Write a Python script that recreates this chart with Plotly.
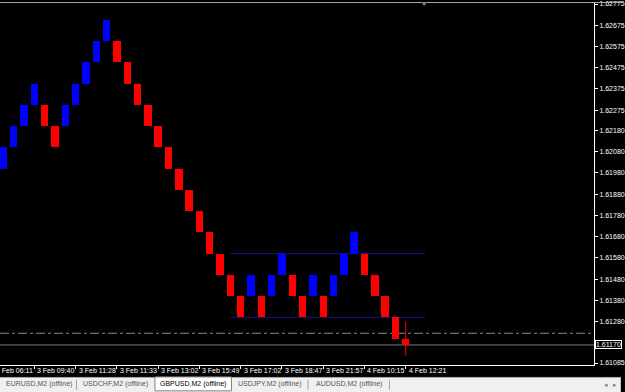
import plotly.graph_objects as go

# ---------------- data ----------------
brick_idx = list(range(1, 40))
brick_open = [1.6200, 1.6210, 1.6220, 1.6230, 1.6230, 1.6220, 1.6220, 1.6230, 1.6240, 1.6250,
              1.6260, 1.6260, 1.6250, 1.6240, 1.6230, 1.6220, 1.6210, 1.6200, 1.6190, 1.6180,
              1.6170, 1.6160, 1.6150, 1.6140, 1.6140, 1.6140, 1.6140, 1.6150, 1.6150, 1.6140,
              1.6140, 1.6140, 1.6140, 1.6150, 1.6160, 1.6160, 1.6150, 1.6140, 1.6130]
brick_close = [1.6210, 1.6220, 1.6230, 1.6240, 1.6220, 1.6210, 1.6230, 1.6240, 1.6250, 1.6260,
               1.6270, 1.6250, 1.6240, 1.6230, 1.6220, 1.6210, 1.6200, 1.6190, 1.6180, 1.6170,
               1.6160, 1.6150, 1.6140, 1.6130, 1.6150, 1.6130, 1.6150, 1.6160, 1.6140, 1.6130,
               1.6150, 1.6130, 1.6150, 1.6160, 1.6170, 1.6150, 1.6140, 1.6130, 1.6120]

# forming bar
cur_idx = 40
cur_open, cur_high, cur_low, cur_close = 1.6120, 1.6128, 1.6112, 1.6117

# horizontal levels drawn on chart
level_values = [1.6160, 1.6130]
level_from, level_to = 23.0, 41.9
dashdot_level = 1.61225
bid_level = 1.61170

price_ticks = [1.62775, 1.62675, 1.62575, 1.62475, 1.62375, 1.62275, 1.62180, 1.62080,
               1.61980, 1.61880, 1.61780, 1.61680, 1.61580, 1.61480, 1.61380, 1.61280, 1.61085]

time_tick_idx = [0, 4, 8, 12, 16, 20, 24, 28, 32, 36, 40]
time_labels = ["3 Feb 06:11", "3 Feb 09:40", "3 Feb 11:28", "3 Feb 11:33", "3 Feb 13:02",
               "3 Feb 15:49", "3 Feb 17:02", "3 Feb 18:47", "3 Feb 21:57", "4 Feb 10:15",
               "4 Feb 12:21"]

tab_labels = ["EURUSD,M2 (offline)", "USDCHF,M2 (offline)", "GBPUSD,M2 (offline)",
              "USDJPY,M2 (offline)", "AUDUSD,M2 (offline)"]
active_tab = 2

# ---------------- layout helpers ----------------
W, H = 625, 392
PX_R, PX_B = 598, 365
FONT = "Liberation Sans"
X_RANGE = [0.664, 58.25]


def px_x(px):
    return px / PX_R


def px_y(py):
    return (PX_B - py) / PX_B


def idx_to_paper(i):
    return (i - X_RANGE[0]) / (X_RANGE[1] - X_RANGE[0])


up_x, up_base, up_h = [], [], []
dn_x, dn_base, dn_h = [], [], []
for i, o, c in zip(brick_idx, brick_open, brick_close):
    if c > o:
        up_x.append(i); up_base.append(o); up_h.append(c - o)
    else:
        dn_x.append(i); dn_base.append(c); dn_h.append(o - c)

fig = go.Figure()
BW = 0.72
fig.add_trace(go.Bar(x=up_x, y=up_h, base=up_base, width=BW,
                     marker=dict(color="#0000ff", line=dict(width=0))))
fig.add_trace(go.Bar(x=dn_x, y=dn_h, base=dn_base, width=BW,
                     marker=dict(color="#ff0000", line=dict(width=0))))
# forming bar wick + body
fig.add_trace(go.Scatter(x=[cur_idx, cur_idx], y=[cur_low, cur_high], mode="lines",
                         line=dict(color="#ff0000", width=1)))
fig.add_trace(go.Bar(x=[cur_idx], y=[abs(cur_open - cur_close)],
                     base=[min(cur_open, cur_close)], width=BW,
                     marker=dict(color="#ff0000", line=dict(width=0))))

shapes = []
for lv in level_values:
    shapes.append(dict(type="line", xref="x", yref="y", x0=level_from, x1=level_to,
                       y0=lv, y1=lv, line=dict(color="#14148c", width=1), layer="below"))
shapes.append(dict(type="line", xref="paper", yref="y", x0=0, x1=1, y0=dashdot_level,
                   y1=dashdot_level, line=dict(color="#6f9a6f", width=1, dash="dashdot"),
                   layer="below"))
shapes.append(dict(type="line", xref="paper", yref="y", x0=0, x1=1, y0=bid_level,
                   y1=bid_level, line=dict(color="#7a7a7a", width=1), layer="below"))
# top window border
shapes.append(dict(type="line", xref="paper", yref="paper", x0=0, x1=px_x(W),
                   y0=px_y(0.5), y1=px_y(0.5), line=dict(color="#a8a8a8", width=1)))
# shift marker triangle
shapes.append(dict(type="path", xref="paper", yref="paper",
                   path=f"M {px_x(424)} {px_y(0)} L {px_x(430)} {px_y(0)} L {px_x(427)} {px_y(4)} Z",
                   fillcolor="#808080", line=dict(width=0)))
# tab bar
shapes.append(dict(type="rect", xref="paper", yref="paper", x0=0, x1=px_x(W),
                   y0=px_y(377), y1=px_y(H + 2), fillcolor="#f0f0f0",
                   line=dict(width=0)))
shapes.append(dict(type="line", xref="paper", yref="paper", x0=0, x1=px_x(W),
                   y0=px_y(377.5), y1=px_y(377.5), line=dict(color="#a0a0a0", width=1)))
# active tab
shapes.append(dict(type="rect", xref="paper", yref="paper", x0=px_x(156), x1=px_x(233),
                   y0=px_y(377), y1=px_y(391), fillcolor="#ffffff",
                   line=dict(color="#808080", width=1)))
for sx in [77, 310, 392]:
    shapes.append(dict(type="line", xref="paper", yref="paper", x0=px_x(sx), x1=px_x(sx),
                       y0=px_y(380), y1=px_y(390), line=dict(color="#a0a0a0", width=1)))

annotations = []
for idx, lab in zip(time_tick_idx, time_labels):
    annotations.append(dict(x=idx_to_paper(idx), xref="paper", y=px_y(371), yref="paper",
                            text=lab, xanchor="left", yanchor="middle", xshift=1,
                            showarrow=False,
                            font=dict(family=FONT, size=7, color="#ffffff")))
annotations.append(dict(x=1, xref="paper", y=bid_level, yref="y", text=f"{bid_level:.5f}",
                        xanchor="left", yanchor="middle", xshift=1, showarrow=False,
                        bgcolor="#000000", bordercolor="#ffffff", borderwidth=1, borderpad=0,
                        font=dict(family=FONT, size=7, color="#ffffff")))
tab_centers = [39, 116, 194, 272, 351]
for i, (cx, lab) in enumerate(zip(tab_centers, tab_labels)):
    annotations.append(dict(x=px_x(cx), xref="paper", y=px_y(384), yref="paper", text=lab,
                            xanchor="center", yanchor="middle", showarrow=False,
                            font=dict(family=FONT, size=7,
                                      color="#000000" if i == active_tab else "#555555")))
for ax_, sym in [(610, "◂"), (619, "▸")]:
    annotations.append(dict(x=px_x(ax_), xref="paper", y=px_y(385), yref="paper", text=sym,
                            xanchor="center", yanchor="middle", showarrow=False,
                            font=dict(family="DejaVu Sans", size=7, color="#808080")))

fig.update_layout(
    width=W, height=H,
    margin=dict(l=0, r=W - PX_R, t=0, b=H - PX_B, pad=0),
    paper_bgcolor="#000000", plot_bgcolor="#000000",
    showlegend=False, barmode="overlay", bargap=0,
    shapes=shapes, annotations=annotations,
    xaxis=dict(range=X_RANGE, showgrid=False, zeroline=False,
               showline=True, linecolor="#ffffff", linewidth=1,
               tickvals=time_tick_idx, ticks="outside", ticklen=3, tickcolor="#ffffff",
               showticklabels=False, fixedrange=True),
    yaxis=dict(range=[1.610756, 1.627844], side="right", showgrid=False, zeroline=False,
               showline=True, linecolor="#ffffff", linewidth=1,
               tickvals=price_ticks, ticktext=[f"{v:.5f}" for v in price_ticks],
               ticks="outside", ticklen=3, tickcolor="#ffffff", ticklabeloverflow="allow",
               tickfont=dict(family=FONT, size=7, color="#ffffff"), fixedrange=True),
)

fig.write_html("out.html")
